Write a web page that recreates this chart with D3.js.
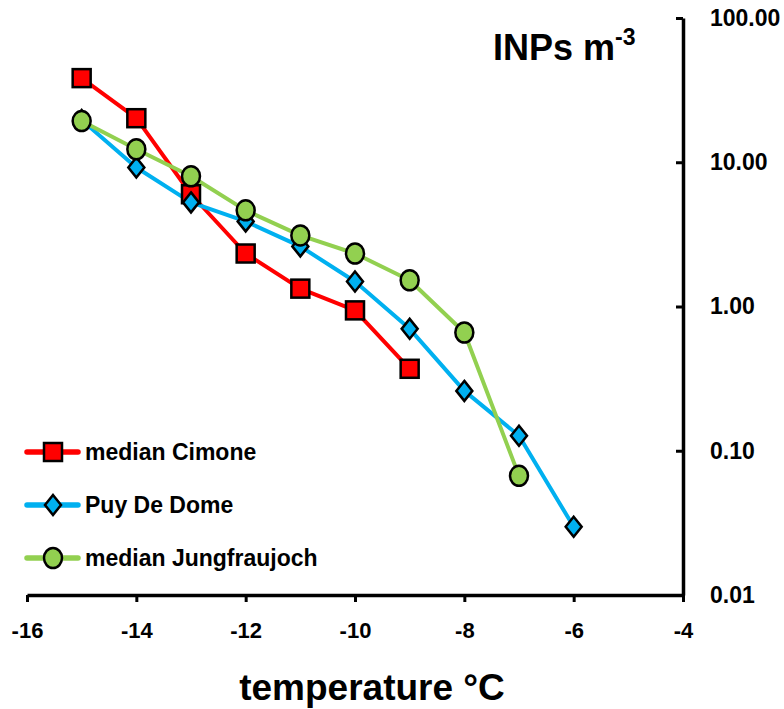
<!DOCTYPE html>
<html><head><meta charset="utf-8">
<script src="https://cdn.jsdelivr.net/npm/d3@7"></script>
<style>
body{margin:0;background:#fff;}
text{font-family:"Liberation Sans",Arial,sans-serif;font-weight:bold;fill:#000;}
</style></head>
<body>
<svg id="chart" width="784" height="709"></svg>
<script>
const temps = [-15,-14,-13,-12,-11,-10,-9,-8,-7,-6];
const cimone = [38.3,20.2,6.0,2.33,1.33,0.94,0.37];
const puyDeDome = [19.6,9.2,5.27,3.89,2.61,1.49,0.70,0.26,0.127,0.0297];
const jungfraujoch = [19.3,12.3,8.0,4.64,3.11,2.33,1.52,0.66,0.067];
const xTicks = [-16,-14,-12,-10,-8,-6,-4];
const yTicks = [0.01,0.1,1,10,100];
const seriesNames = ["median Cimone","Puy De Dome","median Jungfraujoch"];

const svg = d3.select("#chart");
const x = d3.scaleLinear().domain([-16,-4]).range([27,683]);
const y = d3.scaleLog().domain([0.01,100]).range([595,18]);

const series = [
  {name:seriesNames[0], values:cimone, color:"#FF0000", shape:"square"},
  {name:seriesNames[1], values:puyDeDome, color:"#00B0F0", shape:"diamond"},
  {name:seriesNames[2], values:jungfraujoch, color:"#92D050", shape:"circle"}
];

// axes
const xAxis = svg.append("g").attr("transform","translate(0,595)")
  .call(d3.axisBottom(x).tickValues(xTicks).tickSize(7).tickSizeOuter(0).tickFormat(d3.format("d")));
xAxis.select(".domain").attr("stroke","#000").attr("stroke-width",3.5);
xAxis.selectAll(".tick line").attr("stroke","#000").attr("stroke-width",3);
xAxis.selectAll(".tick text").attr("font-size",22).attr("y",35).attr("dy","0.35em")
  .attr("font-family","Liberation Sans, Arial, sans-serif").attr("font-weight","bold").attr("fill","#000")
  .text(d=>d<0?"-"+Math.abs(d):d);

const yAxis = svg.append("g").attr("transform","translate(683,0)")
  .call(d3.axisLeft(y).tickValues(yTicks).tickSize(7).tickSizeOuter(0).tickFormat(d3.format(".2f")));
yAxis.select(".domain").attr("stroke","#000").attr("stroke-width",3.5);
yAxis.selectAll(".tick line").attr("stroke","#000").attr("stroke-width",3);
yAxis.selectAll(".tick text").attr("font-size",23).attr("fill","#000")
  .attr("font-family","Liberation Sans, Arial, sans-serif").attr("font-weight","bold")
  .attr("text-anchor","start").attr("x",27);

// lines
const line = d3.line().x((d,i)=>x(temps[i])).y(d=>y(d));
series.forEach(s=>{
  svg.append("path").datum(s.values).attr("d",line).attr("fill","none")
    .attr("stroke",s.color).attr("stroke-width",4).attr("stroke-linejoin","round");
});

function marker(g, shape, cx, cy, color){
  if(shape==="square"){
    g.append("rect").attr("x",cx-9).attr("y",cy-9).attr("width",18).attr("height",18)
      .attr("fill",color).attr("stroke","#000").attr("stroke-width",2.5);
  } else if(shape==="diamond"){
    g.append("path").attr("d",`M${cx},${cy-10}L${cx+8},${cy}L${cx},${cy+10}L${cx-8},${cy}Z`)
      .attr("fill",color).attr("stroke","#000").attr("stroke-width",2.5);
  } else {
    g.append("ellipse").attr("cx",cx).attr("cy",cy).attr("rx",9).attr("ry",10)
      .attr("fill",color).attr("stroke","#000").attr("stroke-width",2.5);
  }
}
series.forEach(s=>{
  const g = svg.append("g");
  s.values.forEach((v,i)=>marker(g,s.shape,x(temps[i]),y(v),s.color));
});

// legend
const legY = [452,505,558];
series.forEach((s,i)=>{
  const g = svg.append("g");
  g.append("line").attr("x1",27).attr("x2",78).attr("y1",legY[i]).attr("y2",legY[i])
    .attr("stroke",s.color).attr("stroke-width",5.5).attr("stroke-linecap","round");
  marker(g,s.shape,53,legY[i],s.color);
  g.append("text").attr("x",85).attr("y",legY[i]+8).attr("font-size",23).text(s.name);
});

// titles
const t = svg.append("text").attr("x",493).attr("y",60).attr("font-size",36);
t.append("tspan").text("INPs m");
t.append("tspan").attr("font-size",23).attr("dy",-15).text("-3");

svg.append("text").attr("x",372).attr("y",700).attr("text-anchor","middle")
  .attr("font-size",37).text("temperature °C");
</script>
</body></html>
